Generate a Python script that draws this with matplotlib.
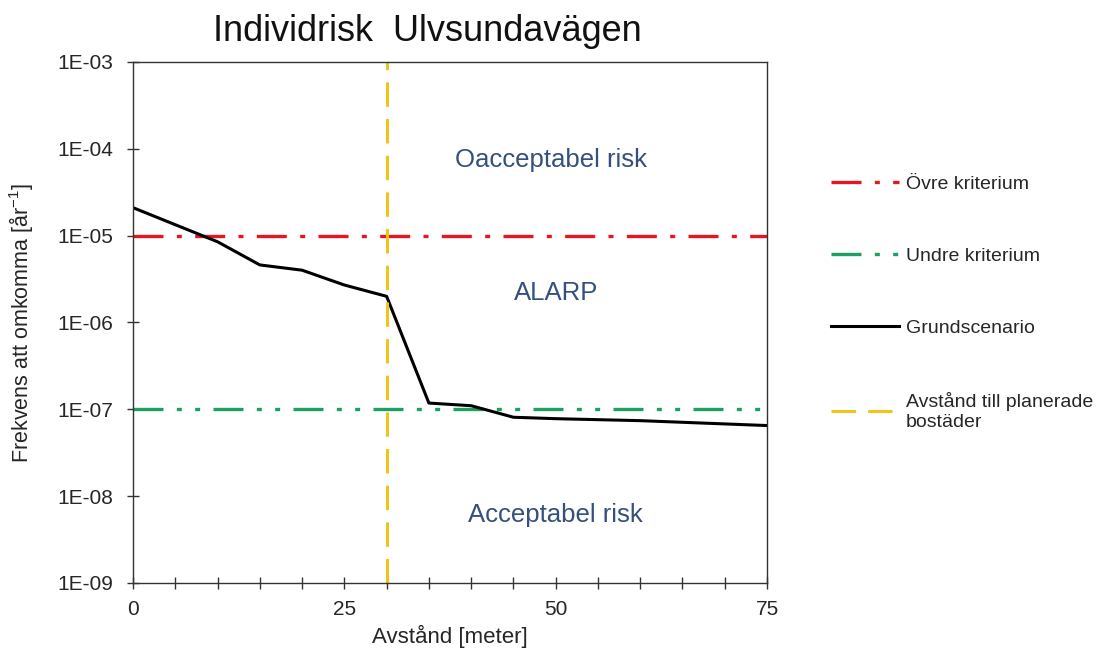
import matplotlib
matplotlib.use("Agg")
import matplotlib.pyplot as plt
from matplotlib.ticker import FixedLocator, MultipleLocator, FixedFormatter

# ---------- Data ----------
distance = [0, 10, 15, 20, 25, 30, 35, 40, 45, 50, 60, 75]
risk = [2.1e-5, 8.5e-6, 4.6e-6, 4.0e-6, 2.7e-6, 2.0e-6,
        1.18e-7, 1.1e-7, 8.1e-8, 7.8e-8, 7.4e-8, 6.5e-8]

upper_crit = 1e-5
lower_crit = 1e-7
planned_dist = 30

ytick_vals = [1e-9, 1e-8, 1e-7, 1e-6, 1e-5, 1e-4, 1e-3]
ytick_labels = ["1E-09", "1E-08", "1E-07", "1E-06", "1E-05", "1E-04", "1E-03"]

zones = [("Oacceptabel risk", 49.5, 7.4e-5),
         ("ALARP", 50.0, 2.2e-6),
         ("Acceptabel risk", 50.0, 6.0e-9)]

# ---------- Style ----------
plt.rcParams["font.family"] = ["Liberation Sans", "DejaVu Sans"]
plt.rcParams["mathtext.fontset"] = "custom"
plt.rcParams["mathtext.rm"] = "Liberation Sans"
plt.rcParams["mathtext.it"] = "Liberation Sans"

RED = "#e3171d"
GREEN = "#1ca05f"
YELLOW = "#f0c419"
ZONE_TXT = "#34507e"
TXT = "#262626"

fig = plt.figure(figsize=(11.16, 6.51), dpi=100)
ax = fig.add_axes([0.1192, 0.1045, 0.5681, 0.8003])

ax.axhline(upper_crit, color=RED, lw=2.4, dashes=(9, 4, 1.5, 4),
           label="Övre kriterium")
ax.axhline(lower_crit, color=GREEN, lw=2.4, dashes=(9, 4, 1.5, 4, 1.5, 4),
           label="Undre kriterium")
ax.plot(distance, risk, color="black", lw=2.2, label="Grundscenario")
ax.axvline(planned_dist, color=YELLOW, lw=2.2, dashes=(8, 4),
           label="Avstånd till planerade\nbostäder")

for txt, x, y in zones:
    ax.text(x, y, txt, color=ZONE_TXT, fontsize=18.5, ha="center", va="center")

ax.set_yscale("log")
ax.set_xlim(0, 75)
ax.set_ylim(1e-9, 1e-3)

ax.yaxis.set_major_locator(FixedLocator(ytick_vals))
ax.yaxis.set_major_formatter(FixedFormatter(ytick_labels))
ax.yaxis.set_minor_locator(FixedLocator([]))
ax.xaxis.set_major_locator(MultipleLocator(25))
ax.xaxis.set_minor_locator(MultipleLocator(5))
ax.tick_params(axis="both", which="both", direction="inout", length=9,
               width=1, labelsize=15, color="#333333", labelcolor=TXT)
ax.tick_params(axis="y", pad=10)
ax.tick_params(axis="x", pad=8)

for s in ax.spines.values():
    s.set_color("#333333")
    s.set_linewidth(1)

fig.text(0.383, 0.951, "Individrisk  Ulvsundavägen", fontsize=26,
         ha="center", va="center", color="#111111")
ax.set_xlabel("Avstånd [meter]", fontsize=16, labelpad=4, color=TXT)
ax.set_ylabel("Frekvens att omkomma [år$^{-1}$]", fontsize=15.5, labelpad=16,
              color=TXT)

leg = ax.legend(loc="upper left", bbox_to_anchor=(1.073, 0.816), frameon=False,
                fontsize=14, labelspacing=2.8, handlelength=3.5,
                handletextpad=0.35)
for t in leg.get_texts():
    t.set_color(TXT)
    t.set_linespacing(1.3)

fig.savefig("out.png", dpi=100)
